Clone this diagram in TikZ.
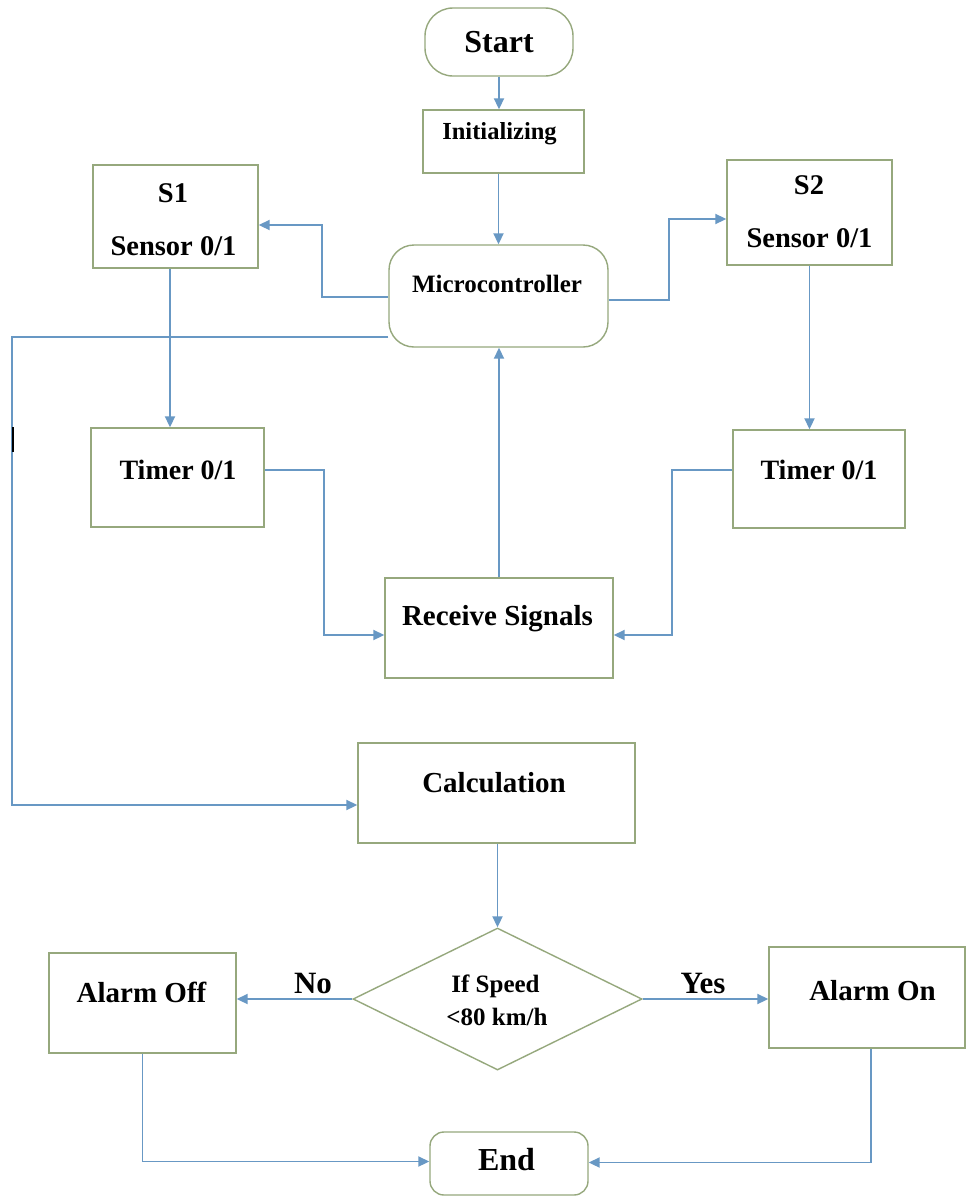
\documentclass[tikz,border=0pt]{standalone}
\usepackage{fontspec}
\setmainfont{Liberation Serif}
\usetikzlibrary{arrows.meta,shapes.geometric}
\definecolor{boxc}{RGB}{150,168,125}
\definecolor{arrc}{RGB}{104,152,196}
\newcommand\fsz[1]{\fontsize{#1}{#1}\selectfont}
\begin{document}
\begin{tikzpicture}[x=1pt,y=-1pt,
  box/.style={draw=boxc,line width=1.4pt,inner sep=0pt,fill=white},
  term/.style={box,rounded corners=22pt},
  conn/.style={draw=arrc,line width=1.9pt},
  arr/.style={conn,-{Triangle[length=11pt,width=10pt]}},
  txt/.style={inner sep=0pt,font=\bfseries\fsz{28.5}},
]
\useasboundingbox[fill=white] (0,0) rectangle (967,1197);

% boxes
\node[term,rounded corners=28pt,minimum width=148,minimum height=68,font=\bfseries\fsz{32}] (start) at (499,42) {Start};
\node[box,minimum width=161,minimum height=63] (init) at (503.5,141.5) {};
\node[term,rounded corners=25pt,minimum width=219,minimum height=102] (micro) at (498.5,296) {};
\node[box,minimum width=165,minimum height=103] (s1) at (175.5,216.5) {};
\node[box,minimum width=165,minimum height=105] (s2) at (809.5,212.5) {};
\node[box,minimum width=173,minimum height=99] (t1) at (177.5,477.5) {};
\node[box,minimum width=172,minimum height=98] (t2) at (819,479) {};
\node[box,minimum width=228,minimum height=100] (recv) at (499,628) {};
\node[box,minimum width=277,minimum height=100] (calc) at (496.5,793) {};
\node[box,diamond,minimum width=289,minimum height=142] (dec) at (497.5,999) {};
\node[box,minimum width=187,minimum height=100] (aoff) at (142.5,1003) {};
\node[box,minimum width=196,minimum height=101] (aon) at (867,997.5) {};
\node[term,rounded corners=14pt,minimum width=158,minimum height=63] (end) at (509,1163.5) {};

% texts
\node[txt,font=\bfseries\fsz{24.5}] (initT) at (499.5,134) {Initializing};
\node[txt,font=\bfseries\fsz{25}] (microT) at (497,284) {Microcontroller};
\node[txt] (s1a) at (173,193) {S1};
\node[txt] (s1b) at (173.5,246) {Sensor 0/1};
\node[txt] (s2a) at (809,185) {S2};
\node[txt] (s2b) at (809.5,238) {Sensor 0/1};
\node[txt,font=\bfseries\fsz{28}] (t1T) at (178,470) {Timer 0/1};
\node[txt,font=\bfseries\fsz{28}] (t2T) at (819,470) {Timer 0/1};
\node[txt,font=\bfseries\fsz{29}] (recvT) at (497.5,619) {Receive Signals};
\node[txt,font=\bfseries\fsz{29}] (calcT) at (494,783) {Calculation};
\node[txt,font=\bfseries\fsz{25}] (decA) at (495.5,986) {If Speed};
\node[txt,font=\bfseries\fsz{25}] (decB) at (497,1017) {<80 km/h};
\node[txt,font=\bfseries\fsz{29}] (aoffT) at (141.5,992) {Alarm Off};
\node[txt,font=\bfseries\fsz{29}] (aonT) at (872.5,991) {Alarm On};
\node[txt,font=\bfseries\fsz{32}] (endT) at (506.5,1160) {End};
\node[txt,font=\bfseries\fsz{31}] (no) at (313,983) {No};
\node[txt,font=\bfseries\fsz{31}] (yes) at (703,983) {Yes};

% connectors
\coordinate (lb) at (12,0);
\draw[arr] (start.south) -- (start.south |- init.north);
\draw[arr] (micro.north |- init.south) -- (micro.north);
\draw[arr] ([yshift=-1pt]micro.west) -- ++(-66,0) |- ([yshift=-8.5pt]s1.east);
\draw[arr] ([yshift=-4pt]micro.east) -- ++(60,0) |- ([yshift=-6.5pt]s2.west);
\draw[arr] ([yshift=-41pt]micro.west) -- ([yshift=-41pt]micro.west -| lb) |- ([yshift=-12pt]calc.west);
\draw[arr] ([xshift=-5.5pt]s1.south) -- ([xshift=-5.5pt]s1.south |- t1.north);
\draw[arr] (s2.south) -- (s2.south |- t2.north);
\draw[arr] ([yshift=7.5pt]t1.east) -- ++(59,0) |- ([yshift=-7pt]recv.west);
\draw[arr] ([yshift=9pt]t2.west) -- ++(-60,0) |- ([yshift=-7pt]recv.east);
\draw[arr] (recv.north) -- (recv.north |- micro.south);
\draw[arr] (dec.north |- calc.south) -- (dec.north);
\draw[arr] (dec.west) -- (dec.west -| aoff.east);
\draw[arr] (dec.east) -- (dec.east -| aon.west);
\draw[arr] (aoff.south) |- ([yshift=2pt]end.west);
\draw[arr] ([xshift=4pt]aon.south) |- ([yshift=1pt]end.east);

% stray mark
\draw[black,line width=1.6pt] (13,427) -- (13,452);
\end{tikzpicture}
\end{document}
